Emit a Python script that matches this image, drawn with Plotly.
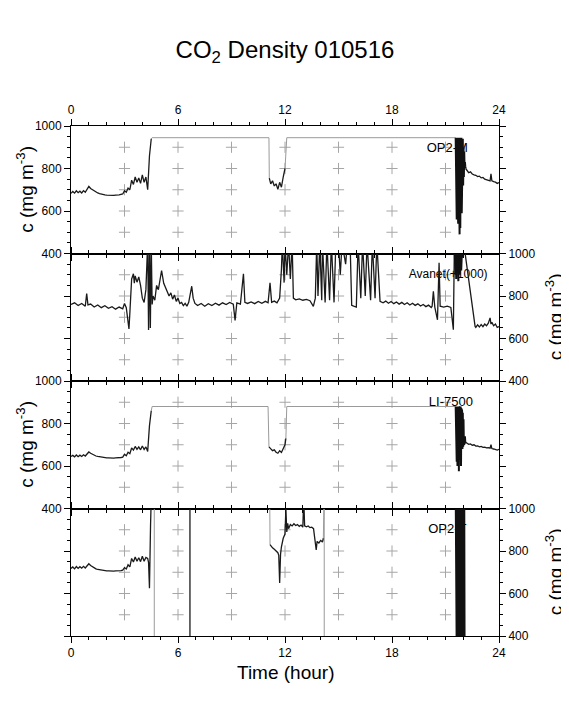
import plotly.graph_objects as go

hour_ticks = [0, 6, 12, 18, 24]
c_ticks = [400, 600, 800, 1000]
cross_hours = [3, 6, 9, 12, 15, 18, 21]
cross_c = [500, 600, 700, 800, 900]

# ---- OP2-M (panel 1) ----
op2m_t = [0.0, 0.1, 0.2, 0.3, 0.4, 0.5, 0.6, 0.7, 0.8, 0.9, 1.0, 1.1, 1.2, 1.3, 1.4, 1.5,
          1.6, 1.7, 1.8, 1.9, 2.0, 2.1, 2.2, 2.3, 2.4, 2.5, 2.6, 2.7, 2.8, 2.9, 3.0, 3.1,
          3.2, 3.3, 3.4, 3.5, 3.6, 3.7, 3.8, 3.9, 4.0, 4.1, 4.2, 4.3, 4.4, 4.5, None,
          11.12, 11.2, 11.3, 11.4, 11.5, 11.6, 11.7, 11.8, 11.9, 12.0, None,
          22.13, 22.2, 22.3, 22.4, 22.5, 22.6, 22.7, 22.8, 22.9, 23.0, 23.1, 23.2, 23.3,
          23.4, 23.5, 23.55, 23.6, 23.7, 23.8, 23.9, 24.0]
op2m_c = [683, 692, 684, 695, 686, 693, 685, 696, 688, 700, 716, 706, 700, 694, 690, 685,
          682, 679, 677, 676, 675, 674, 675, 673, 674, 675, 674, 676, 678, 680, 695, 688,
          708, 700, 745, 725, 760, 735, 755, 730, 770, 735, 760, 700, 860, 940, None,
          755, 728, 742, 718, 728, 702, 735, 712, 760, 800, None,
          800, 790, 780, 784, 774, 770, 768, 762, 764, 756, 758, 750, 748,
          744, 742, 775, 742, 738, 736, 730, 734]
op2m_block_t = [21.57, 21.59, 21.61, 21.63, 21.65, 21.67, 21.69, 21.71, 21.73, 21.75,
                21.77, 21.79, 21.81, 21.83, 21.85, 21.87, 21.89, 21.91, 21.93, 21.95,
                21.97, 21.99, 22.01, 22.03, 22.05, 22.07, 22.09, 22.11, 22.13]
op2m_block_c = [945, 610, 945, 560, 945, 640, 945, 540, 945, 600,
                940, 490, 945, 520, 930, 650, 945, 590, 920, 680,
                940, 720, 900, 760, 880, 800, 830, 810, 800]
op2m_fill_t = [4.5, 4.55, 11.1, 11.12, None, 12.0, 12.1, 21.57]
op2m_fill_c = [940, 945, 945, 755, None, 800, 945, 945]

# ---- Avanet (+1000) (panel 2) ----
avanet_t = [0.0, 0.2, 0.4, 0.6, 0.8, 0.88, 0.95, 1.1, 1.3, 1.5, 1.7, 1.9, 2.1, 2.3, 2.5,
            2.7, 2.9, 3.0, 3.1, 3.2, 3.25, 3.3, 3.4, 3.5, 3.55, 3.6, 3.7, 3.8, 3.9, 4.0,
            4.1, 4.2, 4.3, 4.35, 4.4, 4.45, 4.5, 4.55, 4.6, 4.7, 4.8, 4.9, 5.0, 5.08, 5.2,
            5.3, 5.4, 5.5, 5.6, 5.7, 5.8, 5.9, 6.0, 6.1, 6.2, 6.3, 6.4, 6.5, 6.6, 6.77,
            6.85, 6.95, 7.1, 7.3, 7.5, 7.7, 7.9, 8.1, 8.3, 8.5, 8.7, 8.9, 9.1, 9.2, 9.3,
            9.5, 9.67, 9.75, 9.9, 10.1, 10.3, 10.5, 10.7, 10.9, 11.05, 11.16, 11.25, 11.4,
            11.55, 11.7, 11.8, 11.85, 11.95, 12.0, 12.1, 12.2, 12.3, 12.4, 12.47, 12.6,
            12.8, 13.0, 13.2, 13.4, 13.59, 13.7, 13.78, 13.85, 13.95, 14.06, 14.1, 14.25,
            14.35, 14.5, 14.6, 14.75, 14.85, 15.0, 15.1, 15.2, 15.4, 15.5, 15.65, 15.74,
            15.85, 16.0, 16.1, 16.25, 16.35, 16.5, 16.6, 16.8, 16.9, 17.05, 17.15, 17.33,
            17.5, 17.65, 17.8, 17.95, 18.1, 18.25, 18.4, 18.55, 18.7, 18.85, 19.0, 19.15,
            19.3, 19.45, 19.6, 19.75, 19.9, 20.05, 20.2, 20.25, 20.32, 20.4, 20.55, 20.64,
            20.7, 20.9, 21.1, 21.3, 21.44, 21.5, None,
            22.06, 22.1, 22.66, 22.7, 22.8, 22.9, 23.0, 23.1, 23.2, 23.3, 23.4, 23.5,
            23.55, 23.6, 23.7, 23.8, 23.9, 24.0]
avanet_c = [760, 768, 755, 765, 752, 812, 758, 762, 748, 758, 745, 754, 742, 750, 738,
            748, 740, 765, 745, 690, 645, 720, 880, 905, 860, 895, 865, 890, 850, 790,
            770, 830, 1050, 640, 1050, 650, 1050, 760, 800, 780, 850, 830, 880, 920, 860,
            840, 825, 800, 815, 785, 805, 775, 790, 765, 770, 755, 765, 752, 770, 846,
            790, 765, 755, 765, 752, 764, 755, 766, 757, 768, 760, 770, 762, 685, 768,
            762, 905, 770, 765, 772, 764, 774, 766, 775, 768, 862, 770, 776,
            768, 790, 925, 1050, 863, 1050, 900, 1050, 880, 1050, 790, 782,
            786, 780, 784, 778, 751, 790, 1050, 800, 1050, 780, 1050, 770,
            1050, 780, 1050, 770, 1050, 1050, 900, 1050, 950, 1050, 1050, 756,
            752, 748, 1050, 790, 1050, 800, 1050, 780, 1050, 790, 1050, 775,
            768, 776, 766, 774, 764, 772, 762, 770, 760, 768, 758, 766,
            756, 763, 753, 760, 750, 757, 746, 752, 822, 748, 688, 956,
            752, 748, 752, 746, 641, 1050, None,
            1050, 1000, 657, 652, 664, 654, 666, 656, 668, 660, 672, 697,
            668, 676, 660, 668, 652, 656]
avanet_block_t = [21.5, 21.52, 21.54, 21.56, 21.58, 21.6, 21.62, 21.64, 21.66, 21.68,
                  21.7, 21.72, 21.74, 21.76, 21.78, 21.8, 21.82, 21.84, 21.86, 21.88,
                  21.9, 21.92, 21.94, 21.96, 21.98, 22.0, 22.02, 22.04, 22.06]
avanet_block_c = [1050, 920, 1050, 900, 1050, 880, 1050, 940, 1050, 910,
                  1050, 870, 1050, 930, 1050, 900, 1050, 950, 1050, 920,
                  1050, 960, 1050, 980, 1050, 990, 1050, 1000, 1050]

# ---- LI-7500 (panel 3) ----
li7500_t = [0.0, 0.1, 0.2, 0.3, 0.4, 0.5, 0.6, 0.7, 0.8, 0.9, 1.0, 1.1, 1.2, 1.3, 1.4, 1.5,
            1.6, 1.7, 1.8, 1.9, 2.0, 2.1, 2.2, 2.3, 2.4, 2.5, 2.6, 2.7, 2.8, 2.9, 3.0, 3.1,
            3.2, 3.3, 3.4, 3.5, 3.6, 3.7, 3.8, 3.9, 4.0, 4.1, 4.2, 4.3, 4.4, 4.5, None,
            11.1, 11.15, 11.2, 11.3, 11.4, 11.5, 11.6, 11.7, 11.8, 11.9, 12.0, 12.05, None,
            22.13, 22.2, 22.3, 22.4, 22.5, 22.6, 22.7, 22.8, 22.9, 23.0, 23.1, 23.2, 23.3,
            23.4, 23.5, 23.55, 23.6, 23.7, 23.8, 23.9, 24.0]
li7500_c = [645, 650, 643, 652, 644, 651, 645, 653, 647, 655, 666, 660, 655, 650, 647, 645,
            643, 641, 640, 639, 638, 638, 637, 638, 637, 638, 638, 639, 640, 642, 655, 648,
            665, 658, 685, 675, 692, 678, 690, 676, 694, 678, 690, 668, 790, 860, None,
            690, 685, 682, 672, 676, 665, 660, 672, 664, 680, 700, 730, None,
            712, 706, 702, 704, 698, 700, 694, 695, 690, 692, 688, 689, 685,
            686, 684, 700, 682, 680, 678, 675, 678]
li7500_block_t = [21.57, 21.59, 21.61, 21.63, 21.65, 21.67, 21.69, 21.71, 21.73, 21.75,
                  21.77, 21.79, 21.81, 21.83, 21.85, 21.87, 21.89, 21.91, 21.93, 21.95,
                  21.97, 21.99, 22.01, 22.03, 22.05, 22.07, 22.09, 22.11, 22.13]
li7500_block_c = [880, 650, 880, 620, 880, 600, 880, 640, 880, 575,
                  880, 610, 875, 630, 880, 600, 870, 650, 860, 680,
                  850, 690, 820, 700, 780, 705, 740, 710, 712]
li7500_fill_t = [4.5, 4.55, 11.05, 11.1, None, 12.05, 12.1, 21.57]
li7500_fill_c = [860, 880, 880, 690, None, 730, 880, 880]

# ---- OP2-T (panel 4) ----
op2t_t = [0.0, 0.1, 0.2, 0.3, 0.4, 0.5, 0.6, 0.7, 0.8, 0.9, 1.0, 1.1, 1.2, 1.3, 1.4, 1.5,
          1.6, 1.7, 1.8, 1.9, 2.0, 2.1, 2.2, 2.3, 2.4, 2.5, 2.6, 2.7, 2.8, 2.9, 3.0, 3.1,
          3.2, 3.3, 3.4, 3.5, 3.6, 3.7, 3.8, 3.9, 4.0, 4.1, 4.2, 4.3, 4.35, 4.4, 4.42,
          4.46, 4.5, None,
          6.67, 6.67, None,
          11.16, 11.2, 11.3, 11.4, 11.5, 11.6, 11.65, 11.7, 11.75, 11.8, 11.9, 12.0, 12.05,
          12.1, 12.15, 12.2, 12.3, 12.4, 12.5, 12.6, 12.7, 12.8, 12.9, 13.0, 13.05, 13.1,
          13.2, 13.3, 13.4, 13.5, 13.6, 13.7, 13.75, 13.8, 13.9, 14.0, 14.1, 14.15]
op2t_c = [718, 725, 716, 727, 718, 726, 719, 728, 720, 730, 740, 732, 726, 720, 716, 713,
          711, 709, 708, 707, 706, 706, 705, 706, 705, 706, 706, 707, 708, 710, 722, 715,
          735, 725, 765, 748, 772, 752, 768, 750, 775, 752, 770, 765, 745, 625, 800,
          920, 1050, None,
          1100, 300, None,
          830, 825, 815, 808, 800, 792, 780, 650, 785, 820, 860, 880, 1000,
          890, 930, 905, 925, 918, 928, 920, 924, 916, 922, 912, 1050, 918,
          914, 918, 910, 912, 905, 850, 805, 845, 838, 850, 842, 860]
op2t_block_t = [21.57, 21.59, 21.61, 21.63, 21.65, 21.67, 21.69, 21.71, 21.73, 21.75,
                21.77, 21.79, 21.81, 21.83, 21.85, 21.87, 21.89, 21.91, 21.93, 21.95,
                21.97, 21.99, 22.01, 22.03, 22.05, 22.07]
op2t_block_c = [1100, 300, 1100, 300, 1100, 300, 1100, 300, 1100, 300,
                1100, 300, 1100, 300, 1100, 300, 1100, 300, 1100, 300,
                1100, 300, 1100, 300, 1100, 300]
op2t_gray_t = [4.5, 4.67, 4.67, None, 11.14, 11.16, None, 14.15, 14.2, 14.2]
op2t_gray_c = [1050, 1050, 300, None, 1100, 830, None, 860, 1100, 300]

panels = [
    ("OP2-M", op2m_t, op2m_c, op2m_block_t, op2m_block_c, op2m_fill_t, op2m_fill_c, 13),
    ("Avanet(+1000)", avanet_t, avanet_c, avanet_block_t, avanet_block_c, None, None, 12),
    ("LI-7500", li7500_t, li7500_c, li7500_block_t, li7500_block_c,
     li7500_fill_t, li7500_fill_c, 13),
    ("OP2-T", op2t_t, op2t_c, op2t_block_t, op2t_block_c, op2t_gray_t, op2t_gray_c, 13),
]
label_pos = [(21.1, 895), (21.15, 901), (21.3, 900), (21.1, 901)]

FONT = "Liberation Sans"
# the page body adds an 8px offset, so the figure is 8px smaller than the window
W, H, OFF = 569, 709, 8
PX_L, PX_R, PX_T, PX_B = 71, 499, 126, 636

fig = go.Figure()

cross_x = [h for h in cross_hours for _ in cross_c]
cross_y = [c for _ in cross_hours for c in cross_c]

for i, (name, t, c, bt, bc, ft, fc, fsize) in enumerate(panels, start=1):
    xa, ya = "x%d" % i, "y%d" % i
    fig.add_trace(go.Scatter(
        x=cross_x, y=cross_y, mode="markers", xaxis=xa, yaxis=ya,
        marker=dict(symbol="cross-thin", size=8, line=dict(color="#a6a6a6", width=1)),
        hoverinfo="skip"))
    fig.add_trace(go.Scatter(
        x=[label_pos[i - 1][0]], y=[label_pos[i - 1][1]], mode="text", text=[name],
        textfont=dict(family=FONT, size=fsize, color="black"),
        xaxis=xa, yaxis=ya, hoverinfo="skip"))
    if ft is not None:
        fig.add_trace(go.Scatter(
            x=ft, y=fc, mode="lines", xaxis=xa, yaxis=ya,
            line=dict(color="#9a9a9a", width=1), hoverinfo="skip"))
    fig.add_trace(go.Scatter(
        x=t, y=c, mode="lines", xaxis=xa, yaxis=ya,
        line=dict(color="#1a1a1a", width=1.3), hoverinfo="skip"))
    fig.add_trace(go.Scatter(
        x=bt, y=bc, mode="lines", xaxis=xa, yaxis=ya,
        line=dict(color="#111111", width=2), hoverinfo="skip"))

domains = [[0.75, 1.0], [0.5, 0.75], [0.25, 0.5], [0.0, 0.25]]
layout = dict(
    width=W - OFF, height=H - OFF,
    margin=dict(l=PX_L - OFF, r=W - PX_R, t=PX_T - OFF, b=H - PX_B),
    paper_bgcolor="white", plot_bgcolor="white",
    showlegend=False,
    font=dict(family=FONT, size=12, color="black"),
    title=dict(text="CO<sub>2</sub> Density 010516", x=(285 - OFF) / (W - OFF),
               xanchor="center", y=1 - (50 - OFF) / (H - OFF), yanchor="middle",
               yref="container", font=dict(family=FONT, size=24, color="black")),
)

for i in range(1, 5):
    key = "" if i == 1 else str(i)
    layout["xaxis" + key] = dict(
        domain=[0, 1], range=[0, 24], anchor="y%d" % i,
        side="top" if i == 1 else "bottom",
        tickmode="array", tickvals=hour_ticks,
        showticklabels=(i in (1, 4)),
        ticks="outside", ticklen=6, tickwidth=1, tickcolor="black",
        minor=dict(dtick=1, tick0=0, ticklen=3, ticks="outside", tickcolor="black"),
        showline=True, linecolor="black", linewidth=1, mirror="ticks",
        showgrid=False, zeroline=False, fixedrange=True,
        tickfont=dict(family=FONT, size=12))
    layout["yaxis" + key] = dict(
        domain=domains[i - 1], range=[400, 1000], anchor="x%d" % i,
        side="left" if i % 2 == 1 else "right",
        tickmode="array", tickvals=c_ticks,
        ticks="outside", ticklen=6, tickwidth=1, tickcolor="black",
        minor=dict(dtick=50, tick0=400, ticklen=3, ticks="outside", tickcolor="black"),
        showline=True, linecolor="black", linewidth=1, mirror="ticks",
        showgrid=False, zeroline=False, fixedrange=True,
        tickfont=dict(family=FONT, size=12))

fig.update_layout(**layout)

plot_w = PX_R - PX_L
plot_h = PX_B - PX_T
ytitle = "c (mg m<sup>-3</sup>)"
for i in range(1, 5):
    left = (i % 2 == 1)
    yc = (domains[i - 1][0] + domains[i - 1][1]) / 2
    fig.add_annotation(
        text=ytitle, xref="paper", yref="paper",
        x=(25 - PX_L) / plot_w if left else (554 - PX_L) / plot_w, y=yc,
        xanchor="center", yanchor="middle", textangle=-90, showarrow=False,
        font=dict(family=FONT, size=19, color="black"))

fig.add_annotation(
    text="Time (hour)", xref="paper", yref="paper",
    x=(285 - PX_L) / plot_w, y=(PX_B - 672) / plot_h, xanchor="center",
    yanchor="middle", showarrow=False, font=dict(family=FONT, size=19, color="black"))

fig.write_html("out.html")
